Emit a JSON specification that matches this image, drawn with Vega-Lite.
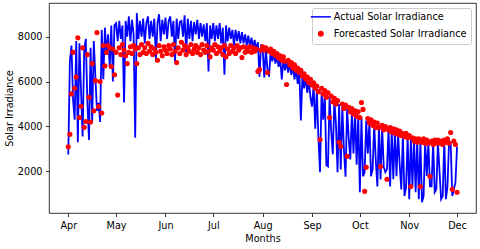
{
"$schema": "https://vega.github.io/schema/vega-lite/v6.json",
"width": 427, "height": 210,
"autosize": "none",
"padding": {"left": 49, "top": 3, "right": 4, "bottom": 36},
"config": {
  "font": "DejaVu Sans",
  "view": {"stroke": "black", "strokeWidth": 0.8},
  "axis": {"domain": false, "grid": false, "tickColor": "black", "tickWidth": 0.8, "tickSize": 3.5, "labelFontSize": 9.7, "labelColor": "black", "labelPadding": 3.5, "titleFontSize": 9.7, "titleFontWeight": "normal", "titleColor": "black", "labelFont": "DejaVu Sans", "titleFont": "DejaVu Sans"}
},
"data": {"values": [
{"d":"2023-04-01","a":2750,"f":3100},{"d":"2023-04-02","a":6900,"f":3650},{"d":"2023-04-03","a":7600,"f":5450},{"d":"2023-04-04","a":5200,"f":7300},{"d":"2023-04-05","a":4300,"f":5700},{"d":"2023-04-06","a":7800,"f":6200},{"d":"2023-04-07","a":3300,"f":7950},{"d":"2023-04-08","a":7700,"f":4400},{"d":"2023-04-09","a":5600,"f":4900},{"d":"2023-04-10","a":3550,"f":7500},
{"d":"2023-04-11","a":7400,"f":3960},{"d":"2023-04-12","a":7900,"f":4220},{"d":"2023-04-13","a":5050,"f":7200},{"d":"2023-04-14","a":3400,"f":5300},{"d":"2023-04-15","a":7500,"f":4200},{"d":"2023-04-16","a":4200,"f":6800},{"d":"2023-04-17","a":7800,"f":4700},{"d":"2023-04-18","a":6200,"f":6040},{"d":"2023-04-19","a":4700,"f":8180},{"d":"2023-04-20","a":5050,"f":4890},
{"d":"2023-04-21","a":4200,"f":6000},{"d":"2023-04-22","a":8300,"f":4600},{"d":"2023-04-23","a":6100,"f":7600},{"d":"2023-04-24","a":8400,"f":6700},{"d":"2023-04-25","a":7200,"f":7300},{"d":"2023-04-26","a":8100,"f":7600},{"d":"2023-04-27","a":6650,"f":7500},{"d":"2023-04-28","a":8500,"f":6670},{"d":"2023-04-29","a":6000,"f":7450},{"d":"2023-04-30","a":8500,"f":6300},
{"d":"2023-05-01","a":8600,"f":7300},{"d":"2023-05-02","a":7800,"f":5400},{"d":"2023-05-03","a":8700,"f":7500},{"d":"2023-05-04","a":7900,"f":7200},{"d":"2023-05-05","a":8500,"f":7650},{"d":"2023-05-06","a":5070,"f":7400},{"d":"2023-05-07","a":8700,"f":7150},{"d":"2023-05-08","a":8000,"f":6800},{"d":"2023-05-09","a":8900,"f":7300},{"d":"2023-05-10","a":7800,"f":7550},
{"d":"2023-05-11","a":8750,"f":7250},{"d":"2023-05-12","a":8100,"f":7600},{"d":"2023-05-13","a":3500,"f":7450},{"d":"2023-05-14","a":9050,"f":6800},{"d":"2023-05-15","a":7900,"f":7500},{"d":"2023-05-16","a":8700,"f":7200},{"d":"2023-05-17","a":8000,"f":7650},{"d":"2023-05-18","a":8800,"f":7300},{"d":"2023-05-19","a":7700,"f":7500},{"d":"2023-05-20","a":8600,"f":7250},
{"d":"2023-05-21","a":8900,"f":7700},{"d":"2023-05-22","a":7900,"f":7350},{"d":"2023-05-23","a":8700,"f":7550},{"d":"2023-05-24","a":8000,"f":7200},{"d":"2023-05-25","a":8800,"f":7450},{"d":"2023-05-26","a":6980,"f":7300},{"d":"2023-05-27","a":8600,"f":6950},{"d":"2023-05-28","a":9000,"f":7600},{"d":"2023-05-29","a":7800,"f":7350},{"d":"2023-05-30","a":8750,"f":7150},{"d":"2023-05-31","a":8100,"f":7550},
{"d":"2023-06-01","a":8850,"f":7400},{"d":"2023-06-02","a":7900,"f":7250},{"d":"2023-06-03","a":8700,"f":7600},{"d":"2023-06-04","a":8900,"f":7450},{"d":"2023-06-05","a":8000,"f":7200},{"d":"2023-06-06","a":8700,"f":7650},{"d":"2023-06-07","a":6850,"f":7350},{"d":"2023-06-08","a":8800,"f":6850},{"d":"2023-06-09","a":7900,"f":7500},{"d":"2023-06-10","a":8650,"f":7250},
{"d":"2023-06-11","a":8700,"f":7750},{"d":"2023-06-12","a":8000,"f":7400},{"d":"2023-06-13","a":8950,"f":7600},{"d":"2023-06-14","a":7300,"f":7200},{"d":"2023-06-15","a":8800,"f":7500},{"d":"2023-06-16","a":7900,"f":7350},{"d":"2023-06-17","a":8700,"f":7650},{"d":"2023-06-18","a":7800,"f":7250},{"d":"2023-06-19","a":8650,"f":7450},{"d":"2023-06-20","a":8100,"f":7600},
{"d":"2023-06-21","a":8750,"f":7300},{"d":"2023-06-22","a":7900,"f":7500},{"d":"2023-06-23","a":8600,"f":7200},{"d":"2023-06-24","a":8000,"f":7650},{"d":"2023-06-25","a":8550,"f":7400},{"d":"2023-06-26","a":7800,"f":7300},{"d":"2023-06-27","a":8600,"f":7600},{"d":"2023-06-28","a":6450,"f":7350},{"d":"2023-06-29","a":8500,"f":7100},{"d":"2023-06-30","a":7900,"f":7500},
{"d":"2023-07-01","a":8600,"f":7400},{"d":"2023-07-02","a":7800,"f":7650},{"d":"2023-07-03","a":8500,"f":7250},{"d":"2023-07-04","a":7900,"f":7550},{"d":"2023-07-05","a":8600,"f":7350},{"d":"2023-07-06","a":7700,"f":7500},{"d":"2023-07-07","a":8400,"f":7200},{"d":"2023-07-08","a":6300,"f":7600},{"d":"2023-07-09","a":8500,"f":7100},{"d":"2023-07-10","a":7800,"f":7450},
{"d":"2023-07-11","a":8400,"f":7250},{"d":"2023-07-12","a":7900,"f":7600},{"d":"2023-07-13","a":8300,"f":7350},{"d":"2023-07-14","a":7600,"f":7500},{"d":"2023-07-15","a":8300,"f":7250},{"d":"2023-07-16","a":7800,"f":7600},{"d":"2023-07-17","a":8250,"f":7400},{"d":"2023-07-18","a":7700,"f":7500},{"d":"2023-07-19","a":8200,"f":7070},{"d":"2023-07-20","a":7700,"f":7550},
{"d":"2023-07-21","a":8100,"f":7300},{"d":"2023-07-22","a":7600,"f":7500},{"d":"2023-07-23","a":8050,"f":7350},{"d":"2023-07-24","a":7550,"f":7550},{"d":"2023-07-25","a":7950,"f":7300},{"d":"2023-07-26","a":7500,"f":7500},{"d":"2023-07-27","a":7850,"f":7350},{"d":"2023-07-28","a":7400,"f":7450},{"d":"2023-07-29","a":7750,"f":6450},{"d":"2023-07-30","a":6220,"f":6530},{"d":"2023-07-31","a":7650,"f":7400},
{"d":"2023-08-01","a":7500,"f":7550},{"d":"2023-08-02","a":6180,"f":7400},{"d":"2023-08-03","a":7450,"f":7500},{"d":"2023-08-04","a":6530,"f":6400},{"d":"2023-08-05","a":6220,"f":7350},{"d":"2023-08-06","a":7350,"f":7450},{"d":"2023-08-07","a":6900,"f":7250},{"d":"2023-08-08","a":7250,"f":7350},{"d":"2023-08-09","a":6800,"f":7150},{"d":"2023-08-10","a":7150,"f":7250},
{"d":"2023-08-11","a":6650,"f":7050},{"d":"2023-08-12","a":7050,"f":7150},{"d":"2023-08-13","a":6090,"f":6950},{"d":"2023-08-14","a":7000,"f":7100},{"d":"2023-08-15","a":6500,"f":6900},{"d":"2023-08-16","a":6900,"f":5870},{"d":"2023-08-17","a":6400,"f":6950},{"d":"2023-08-18","a":6800,"f":6750},{"d":"2023-08-19","a":6300,"f":6850},{"d":"2023-08-20","a":6700,"f":6600},
{"d":"2023-08-21","a":6100,"f":6750},{"d":"2023-08-22","a":6600,"f":6500},{"d":"2023-08-23","a":5900,"f":6600},{"d":"2023-08-24","a":6450,"f":6400},{"d":"2023-08-25","a":4270,"f":6500},{"d":"2023-08-26","a":6350,"f":6250},{"d":"2023-08-27","a":5700,"f":6350},{"d":"2023-08-28","a":6200,"f":6100},{"d":"2023-08-29","a":5500,"f":6200},{"d":"2023-08-30","a":6050,"f":5950},{"d":"2023-08-31","a":5300,"f":6100},
{"d":"2023-09-01","a":4890,"f":5850},{"d":"2023-09-02","a":5850,"f":5950},{"d":"2023-09-03","a":3900,"f":5700},{"d":"2023-09-04","a":5650,"f":5800},{"d":"2023-09-05","a":3500,"f":5550},{"d":"2023-09-06","a":1960,"f":3420},{"d":"2023-09-07","a":5550,"f":5700},{"d":"2023-09-08","a":4300,"f":5450},{"d":"2023-09-09","a":5450,"f":5600},{"d":"2023-09-10","a":2270,"f":5300},
{"d":"2023-09-11","a":2220,"f":5500},{"d":"2023-09-12","a":5300,"f":4400},{"d":"2023-09-13","a":3800,"f":5350},{"d":"2023-09-14","a":2760,"f":5100},{"d":"2023-09-15","a":5150,"f":5250},{"d":"2023-09-16","a":4100,"f":5000},{"d":"2023-09-17","a":1960,"f":5150},{"d":"2023-09-18","a":5000,"f":3300},{"d":"2023-09-19","a":2090,"f":3110},{"d":"2023-09-20","a":4900,"f":5000},
{"d":"2023-09-21","a":3000,"f":4800},{"d":"2023-09-22","a":1760,"f":4950},{"d":"2023-09-23","a":4800,"f":2670},{"d":"2023-09-24","a":3500,"f":4850},{"d":"2023-09-25","a":2530,"f":4650},{"d":"2023-09-26","a":4650,"f":4800},{"d":"2023-09-27","a":2800,"f":4550},{"d":"2023-09-28","a":4600,"f":4700},{"d":"2023-09-29","a":2300,"f":4450},{"d":"2023-09-30","a":4500,"f":4650},
{"d":"2023-10-01","a":1070,"f":4400},{"d":"2023-10-02","a":4400,"f":5070},{"d":"2023-10-03","a":1780,"f":4760},{"d":"2023-10-04","a":1960,"f":1110},{"d":"2023-10-05","a":4250,"f":2180},{"d":"2023-10-06","a":2800,"f":4350},{"d":"2023-10-07","a":4200,"f":4150},{"d":"2023-10-08","a":1780,"f":4300},{"d":"2023-10-09","a":2090,"f":4050},{"d":"2023-10-10","a":4100,"f":4200},
{"d":"2023-10-11","a":2500,"f":3950},{"d":"2023-10-12","a":1330,"f":4150},{"d":"2023-10-13","a":4050,"f":3950},{"d":"2023-10-14","a":1640,"f":2220},{"d":"2023-10-15","a":3950,"f":4050},{"d":"2023-10-16","a":2200,"f":3850},{"d":"2023-10-17","a":1960,"f":4000},{"d":"2023-10-18","a":2090,"f":1650},{"d":"2023-10-19","a":3900,"f":3850},{"d":"2023-10-20","a":1330,"f":3950},
{"d":"2023-10-21","a":3850,"f":3750},{"d":"2023-10-22","a":1650,"f":3900},{"d":"2023-10-23","a":3800,"f":3700},{"d":"2023-10-24","a":1780,"f":3850},{"d":"2023-10-25","a":3700,"f":3650},{"d":"2023-10-26","a":2300,"f":3800},{"d":"2023-10-27","a":1200,"f":3600},{"d":"2023-10-28","a":3650,"f":3690},{"d":"2023-10-29","a":900,"f":3550},{"d":"2023-10-30","a":1290,"f":3700},{"d":"2023-10-31","a":3550,"f":3500},
{"d":"2023-11-01","a":760,"f":3600},{"d":"2023-11-02","a":3450,"f":1330},{"d":"2023-11-03","a":1330,"f":3500},{"d":"2023-11-04","a":3450,"f":3350},{"d":"2023-11-05","a":1070,"f":3450},{"d":"2023-11-06","a":3400,"f":3300},{"d":"2023-11-07","a":760,"f":3450},{"d":"2023-11-08","a":3350,"f":1330},{"d":"2023-11-09","a":630,"f":3300},{"d":"2023-11-10","a":900,"f":3450},
{"d":"2023-11-11","a":3350,"f":3250},{"d":"2023-11-12","a":1800,"f":3400},{"d":"2023-11-13","a":3300,"f":3250},{"d":"2023-11-14","a":1330,"f":1780},{"d":"2023-11-15","a":1330,"f":3350},{"d":"2023-11-16","a":3300,"f":3200},{"d":"2023-11-17","a":1070,"f":3400},{"d":"2023-11-18","a":1200,"f":3250},{"d":"2023-11-19","a":3300,"f":3400},{"d":"2023-11-20","a":2000,"f":3250},
{"d":"2023-11-21","a":760,"f":3350},{"d":"2023-11-22","a":900,"f":3200},{"d":"2023-11-23","a":3350,"f":3400},{"d":"2023-11-24","a":760,"f":3300},{"d":"2023-11-25","a":1330,"f":3450},{"d":"2023-11-26","a":3350,"f":3250},{"d":"2023-11-27","a":3300,"f":3730},{"d":"2023-11-28","a":900,"f":1200},{"d":"2023-11-29","a":1200,"f":3350},{"d":"2023-11-30","a":1510,"f":3200},
{"d":"2023-12-01","a":3100,"f":1070}
]},
"encoding": {
  "x": {"field": "d", "type": "temporal",
    "scale": {"domain": [{"year": 2023, "month": 3, "date": 19, "hours": 21, "minutes": 36}, {"year": 2023, "month": 12, "date": 12, "hours": 21, "minutes": 36}]},
    "axis": {"title": "Months", "format": "%b", "labelAngle": 0, "titlePadding": 4, "labelFlush": false, "labelOverlap": false,
      "values": [{"year": 2023, "month": 4, "date": 1}, {"year": 2023, "month": 5, "date": 1}, {"year": 2023, "month": 6, "date": 1}, {"year": 2023, "month": 7, "date": 1}, {"year": 2023, "month": 8, "date": 1}, {"year": 2023, "month": 9, "date": 1}, {"year": 2023, "month": 10, "date": 1}, {"year": 2023, "month": 11, "date": 1}, {"year": 2023, "month": 12, "date": 1}]}}
},
"layer": [
  {"mark": {"type": "line", "strokeWidth": 1.8},
   "encoding": {
     "y": {"field": "a", "type": "quantitative", "scale": {"domain": [147, 9498], "nice": false, "zero": false},
       "axis": {"title": "Solar Irradiance", "values": [2000, 4000, 6000, 8000], "format": "d", "titlePadding": 3}},
     "color": {"datum": "Actual Solar Irradiance", "type": "nominal",
       "scale": {"domain": ["Actual Solar Irradiance", "Forecasted Solar Irradiance"], "range": ["#0000ff", "#ff0000"]},
       "legend": {"title": null, "orient": "top-right", "offset": 5, "padding": 4, "strokeColor": "#cccccc", "fillColor": "rgba(255,255,255,0.8)", "cornerRadius": 2,
         "labelFontSize": 9.7, "labelFont": "DejaVu Sans", "labelColor": "black", "labelOffset": 8, "rowPadding": 6, "symbolSize": 400, "labelLimit": 300,
         "encode": {"symbols": {"update": {
           "shape": {"signal": "datum.value === 'Actual Solar Irradiance' ? 'stroke' : 'circle'"},
           "size": {"signal": "datum.value === 'Actual Solar Irradiance' ? 400 : 20"},
           "fill": {"signal": "datum.value === 'Actual Solar Irradiance' ? 'transparent' : '#ff0000'"},
           "stroke": {"signal": "datum.value === 'Actual Solar Irradiance' ? '#0000ff' : 'transparent'"},
           "strokeWidth": {"value": 1.5},
           "opacity": {"value": 1}
         }}}}}
   }},
  {"mark": {"type": "point", "filled": true, "size": 26, "opacity": 1},
   "encoding": {
     "y": {"field": "f", "type": "quantitative", "axis": {"title": "Solar Irradiance", "values": [2000, 4000, 6000, 8000], "format": "d", "titlePadding": 3}},
     "color": {"datum": "Forecasted Solar Irradiance", "type": "nominal"}
   }}
]
}
